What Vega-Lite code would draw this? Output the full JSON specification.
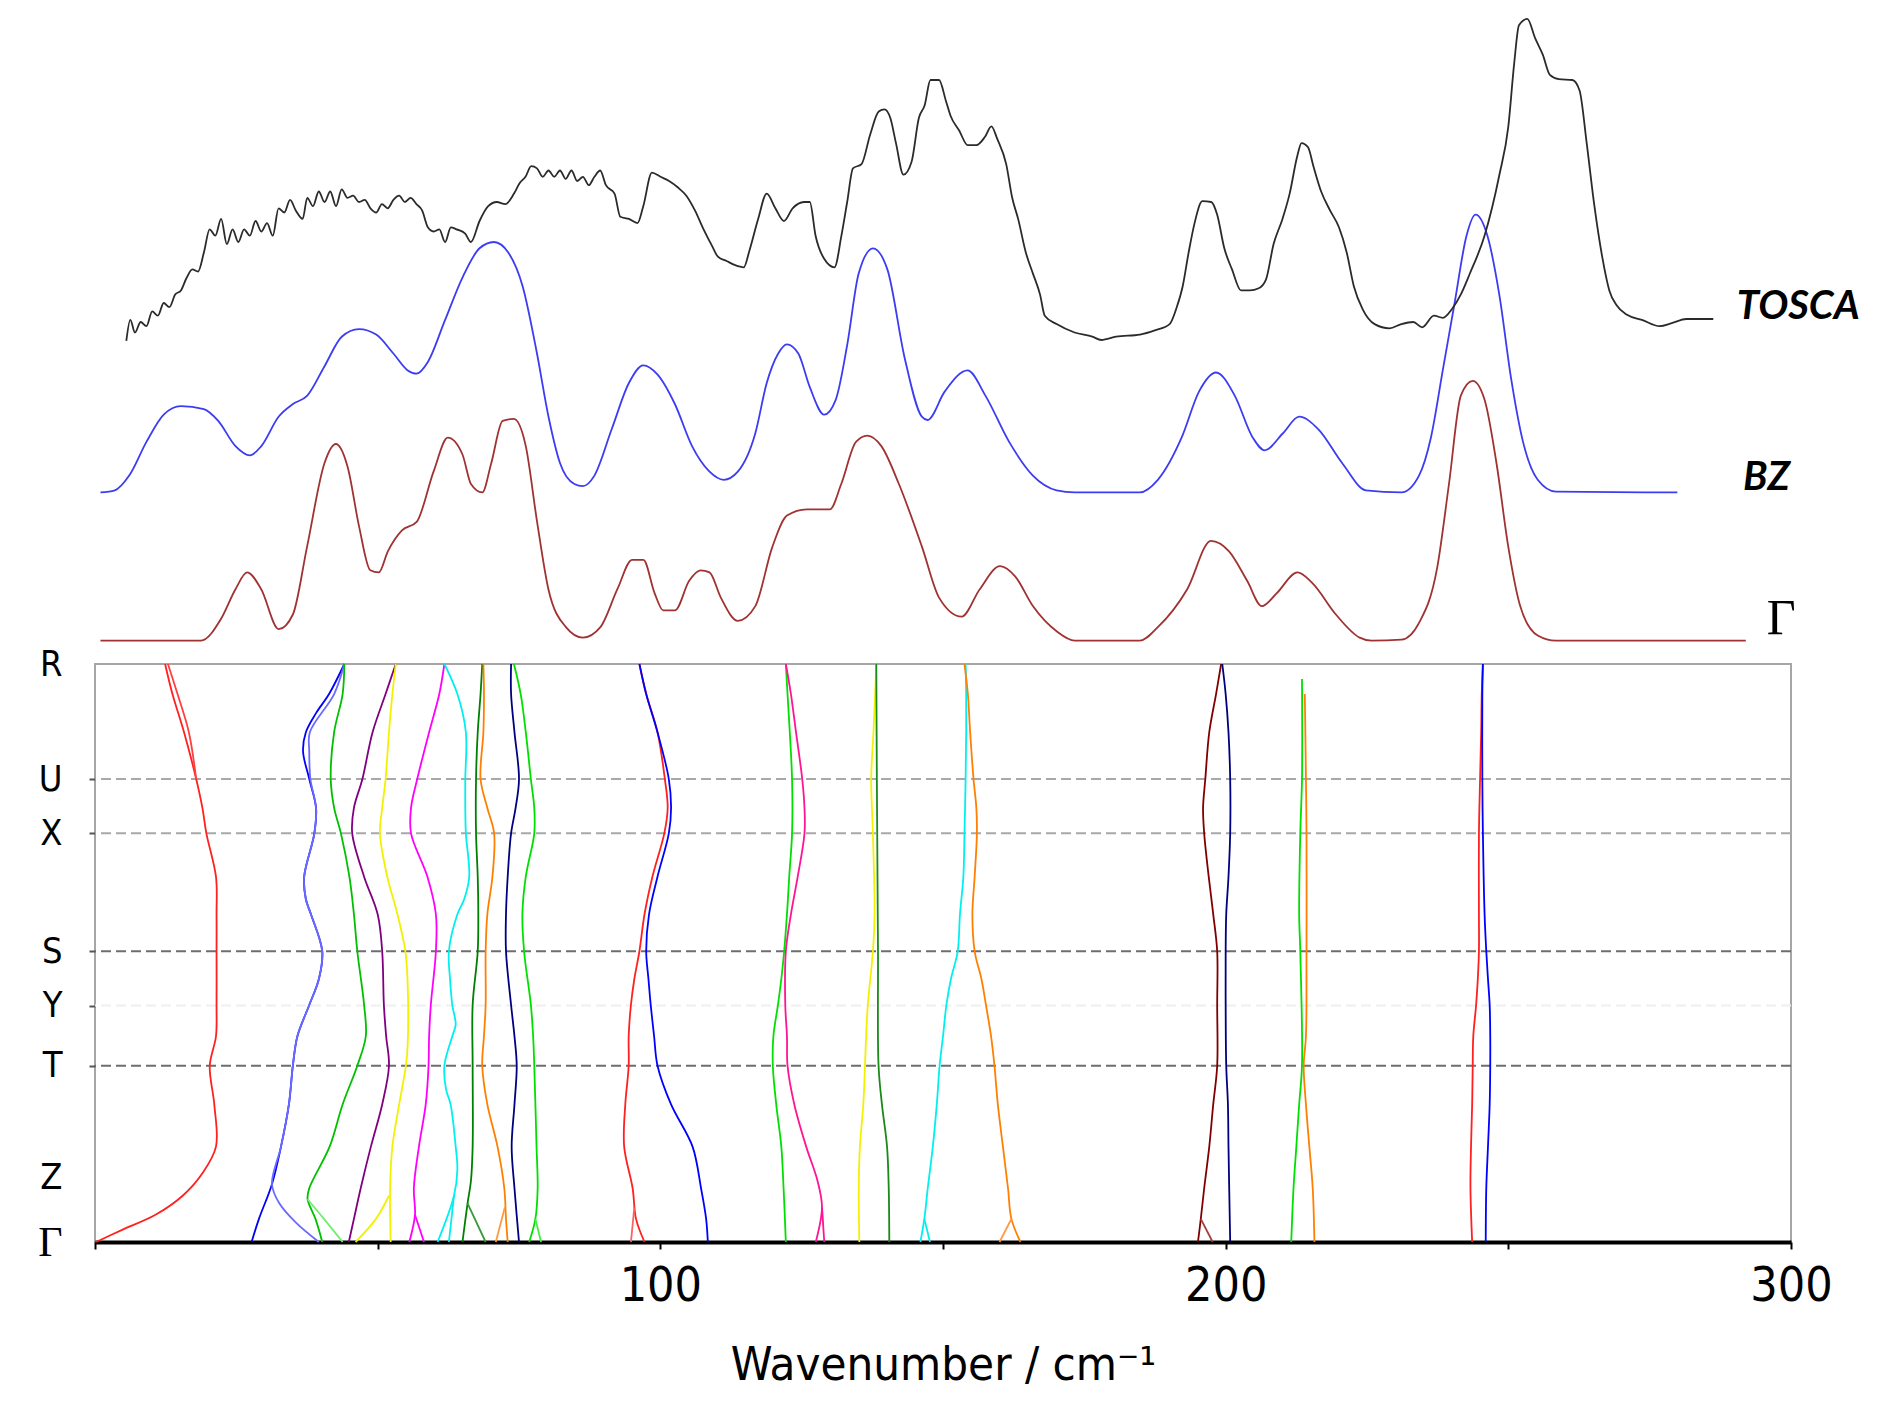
{
"$schema": "https://vega.github.io/schema/vega-lite/v6.json",
"padding": {"left": 36, "top": 0, "right": 0, "bottom": 0},
"background": "white",
"bounds": "flush",
"spacing": 10,
"resolve": {"scale": {"color": "independent", "x": "independent", "y": "independent"}},
"config": {"view": {"stroke": null}},
"datasets": {
"labels": [{"t":"TOSCA","w":290.4,"v":347},{"t":"BZ","w":291.5,"v":176},{"t":"Γ","w":295.7,"v":35}],
"grid": [{"pt":"U","k":0.801},{"pt":"X","k":0.707},{"pt":"S","k":0.503},{"pt":"Y","k":0.409},{"pt":"T","k":0.305}],
"spectra": [
{"s":"Γ","w":0.97,"v":13.4},{"s":"Γ","w":18.75,"v":13.4},{"s":"Γ","w":22.3,"v":35.3},{"s":"Γ","w":24.85,"v":64.8},{"s":"Γ","w":26.9,"v":81.6},{"s":"Γ","w":29.4,"v":64.8},{"s":"Γ","w":32.5,"v":24.8},{"s":"Γ","w":35.0,"v":39.5},{"s":"Γ","w":37.5,"v":106.9},{"s":"Γ","w":40.6,"v":191},{"s":"Γ","w":42.6,"v":210},{"s":"Γ","w":44.7,"v":186.8},{"s":"Γ","w":46.7,"v":127.9},{"s":"Γ","w":48.7,"v":83.7},{"s":"Γ","w":50.2,"v":81.6},{"s":"Γ","w":51.8,"v":102.7},{"s":"Γ","w":54.3,"v":123.7},{"s":"Γ","w":56.9,"v":132.1},{"s":"Γ","w":59.9,"v":182.6},{"s":"Γ","w":62.4,"v":216.3},{"s":"Γ","w":65.0,"v":199.5},{"s":"Γ","w":66.5,"v":170},{"s":"Γ","w":68.5,"v":161.6},{"s":"Γ","w":70.1,"v":191},{"s":"Γ","w":72.1,"v":233.1},{"s":"Γ","w":74.1,"v":235.2},{"s":"Γ","w":76.2,"v":207.9},{"s":"Γ","w":78.2,"v":132.1},{"s":"Γ","w":80.2,"v":64.8},{"s":"Γ","w":83.3,"v":26.9},{"s":"Γ","w":86.3,"v":16.4},{"s":"Γ","w":89.4,"v":26.9},{"s":"Γ","w":92.4,"v":64.8},{"s":"Γ","w":95.0,"v":94.2},{"s":"Γ","w":97.0,"v":94.2},{"s":"Γ","w":99.0,"v":60.6},{"s":"Γ","w":100.5,"v":43.7},{"s":"Γ","w":102.6,"v":43.7},{"s":"Γ","w":105.1,"v":73.2},{"s":"Γ","w":107.1,"v":83.7},{"s":"Γ","w":108.7,"v":81.6},{"s":"Γ","w":110.7,"v":56.4},{"s":"Γ","w":113.7,"v":33.2},{"s":"Γ","w":116.8,"v":47.9},{"s":"Γ","w":119.8,"v":106.9},{"s":"Γ","w":122.4,"v":138.4},{"s":"Γ","w":125.9,"v":144.7},{"s":"Γ","w":130.0,"v":144.7},{"s":"Γ","w":132.0,"v":170},{"s":"Γ","w":134.6,"v":212.1},{"s":"Γ","w":136.6,"v":218.4},{"s":"Γ","w":139.1,"v":207.9},{"s":"Γ","w":142.2,"v":170},{"s":"Γ","w":146.3,"v":106.9},{"s":"Γ","w":149.3,"v":56.4},{"s":"Γ","w":153.3,"v":37.4},{"s":"Γ","w":156.5,"v":64.8},{"s":"Γ","w":160.1,"v":87.9},{"s":"Γ","w":162.8,"v":77.4},{"s":"Γ","w":165.9,"v":47.9},{"s":"Γ","w":170.1,"v":22.7},{"s":"Γ","w":173.3,"v":13.4},{"s":"Γ","w":184.8,"v":13.4},{"s":"Γ","w":188.0,"v":26.9},{"s":"Γ","w":193.2,"v":64.8},{"s":"Γ","w":197.4,"v":113.2},{"s":"Γ","w":200.6,"v":102.7},{"s":"Γ","w":203.8,"v":73.2},{"s":"Γ","w":206.4,"v":47.9},{"s":"Γ","w":209.0,"v":60.6},{"s":"Γ","w":212.7,"v":81.6},{"s":"Γ","w":215.3,"v":71.1},{"s":"Γ","w":219.5,"v":39.5},{"s":"Γ","w":223.7,"v":16.4},{"s":"Γ","w":225.8,"v":13.4},{"s":"Γ","w":231.1,"v":14.3},{"s":"Γ","w":234.2,"v":31.1},{"s":"Γ","w":237.4,"v":85.8},{"s":"Γ","w":239.5,"v":170},{"s":"Γ","w":241.6,"v":258.4},{"s":"Γ","w":243.7,"v":273.1},{"s":"Γ","w":245.8,"v":254.2},{"s":"Γ","w":247.9,"v":191},{"s":"Γ","w":250.0,"v":106.9},{"s":"Γ","w":252.1,"v":47.9},{"s":"Γ","w":255.2,"v":18.5},{"s":"Γ","w":258.4,"v":13.4},{"s":"Γ","w":292.0,"v":13.4},
{"s":"BZ","w":0.97,"v":161.6},{"s":"BZ","w":3.51,"v":163.7},{"s":"BZ","w":6.05,"v":178.4},{"s":"BZ","w":9.1,"v":212.1},{"s":"BZ","w":12.15,"v":239.4},{"s":"BZ","w":15.2,"v":247.9},{"s":"BZ","w":19.26,"v":244.9},{"s":"BZ","w":21.8,"v":233.1},{"s":"BZ","w":24.85,"v":207.9},{"s":"BZ","w":27.39,"v":198.6},{"s":"BZ","w":29.42,"v":207.9},{"s":"BZ","w":32.47,"v":237.3},{"s":"BZ","w":35.01,"v":250},{"s":"BZ","w":37.55,"v":258.4},{"s":"BZ","w":40.6,"v":287.8},{"s":"BZ","w":43.64,"v":317.3},{"s":"BZ","w":46.69,"v":324.9},{"s":"BZ","w":49.74,"v":319.4},{"s":"BZ","w":52.78,"v":300.5},{"s":"BZ","w":55.32,"v":283.6},{"s":"BZ","w":56.85,"v":280.3},{"s":"BZ","w":58.88,"v":292.1},{"s":"BZ","w":61.93,"v":334.1},{"s":"BZ","w":64.98,"v":376.2},{"s":"BZ","w":68.02,"v":405.7},{"s":"BZ","w":70.56,"v":412},{"s":"BZ","w":73.1,"v":401.5},{"s":"BZ","w":75.64,"v":367.8},{"s":"BZ","w":78.18,"v":300.5},{"s":"BZ","w":80.22,"v":237.3},{"s":"BZ","w":82.25,"v":191},{"s":"BZ","w":84.79,"v":170},{"s":"BZ","w":86.31,"v":167.9},{"s":"BZ","w":88.34,"v":178.4},{"s":"BZ","w":91.39,"v":224.7},{"s":"BZ","w":94.44,"v":271},{"s":"BZ","w":96.98,"v":288.7},{"s":"BZ","w":99.52,"v":279.4},{"s":"BZ","w":102.57,"v":250},{"s":"BZ","w":105.61,"v":207.9},{"s":"BZ","w":108.66,"v":182.6},{"s":"BZ","w":111.2,"v":174.2},{"s":"BZ","w":113.74,"v":182.6},{"s":"BZ","w":116.79,"v":220.5},{"s":"BZ","w":118.82,"v":271},{"s":"BZ","w":120.85,"v":300.5},{"s":"BZ","w":122.38,"v":309.7},{"s":"BZ","w":124.41,"v":300.5},{"s":"BZ","w":126.44,"v":266.8},{"s":"BZ","w":128.98,"v":239.4},{"s":"BZ","w":131.02,"v":254.2},{"s":"BZ","w":133.05,"v":308.9},{"s":"BZ","w":135.08,"v":380.4},{"s":"BZ","w":137.62,"v":405.7},{"s":"BZ","w":140.16,"v":384.6},{"s":"BZ","w":143.21,"v":296.3},{"s":"BZ","w":146.25,"v":237.3},{"s":"BZ","w":147.27,"v":234},{"s":"BZ","w":150.32,"v":262.6},{"s":"BZ","w":154.35,"v":283.6},{"s":"BZ","w":157.5,"v":258.4},{"s":"BZ","w":161.7,"v":212.1},{"s":"BZ","w":165.9,"v":178.4},{"s":"BZ","w":170.1,"v":163.7},{"s":"BZ","w":173.3,"v":161.6},{"s":"BZ","w":184.8,"v":161.6},{"s":"BZ","w":188.0,"v":174.2},{"s":"BZ","w":192.2,"v":216.3},{"s":"BZ","w":195.3,"v":262.6},{"s":"BZ","w":198.3,"v":281.5},{"s":"BZ","w":201.6,"v":258.4},{"s":"BZ","w":204.8,"v":216.3},{"s":"BZ","w":206.9,"v":203.7},{"s":"BZ","w":210.1,"v":220.5},{"s":"BZ","w":213.0,"v":237.3},{"s":"BZ","w":216.4,"v":224.7},{"s":"BZ","w":220.6,"v":191},{"s":"BZ","w":224.8,"v":163.7},{"s":"BZ","w":231.1,"v":161.6},{"s":"BZ","w":234.2,"v":178.4},{"s":"BZ","w":236.3,"v":216.3},{"s":"BZ","w":238.4,"v":283.6},{"s":"BZ","w":240.5,"v":351},{"s":"BZ","w":242.6,"v":418.3},{"s":"BZ","w":244.2,"v":439.4},{"s":"BZ","w":246.3,"v":418.3},{"s":"BZ","w":248.4,"v":359.4},{"s":"BZ","w":250.5,"v":275.2},{"s":"BZ","w":252.6,"v":212.1},{"s":"BZ","w":255.2,"v":174.2},{"s":"BZ","w":258.4,"v":162.4},{"s":"BZ","w":279.9,"v":161.6},
{"s":"TOSCA","w":5.54,"v":313.1},{"s":"TOSCA","w":6.25,"v":334.1},{"s":"TOSCA","w":7.07,"v":321.5},{"s":"TOSCA","w":8.08,"v":332},{"s":"TOSCA","w":9.1,"v":327.8},{"s":"TOSCA","w":10.12,"v":342.6},{"s":"TOSCA","w":11.13,"v":338.3},{"s":"TOSCA","w":12.15,"v":351},{"s":"TOSCA","w":13.16,"v":346.8},{"s":"TOSCA","w":14.18,"v":359.4},{"s":"TOSCA","w":15.2,"v":363.6},{"s":"TOSCA","w":16.21,"v":376.2},{"s":"TOSCA","w":17.23,"v":384.6},{"s":"TOSCA","w":18.24,"v":382.5},{"s":"TOSCA","w":19.26,"v":401.5},{"s":"TOSCA","w":20.28,"v":424.6},{"s":"TOSCA","w":21.29,"v":418.3},{"s":"TOSCA","w":22.31,"v":435.1},{"s":"TOSCA","w":23.32,"v":409.9},{"s":"TOSCA","w":24.34,"v":424.6},{"s":"TOSCA","w":25.35,"v":412},{"s":"TOSCA","w":26.37,"v":424.6},{"s":"TOSCA","w":27.39,"v":418.3},{"s":"TOSCA","w":28.4,"v":433},{"s":"TOSCA","w":29.42,"v":422.5},{"s":"TOSCA","w":30.43,"v":430.9},{"s":"TOSCA","w":31.45,"v":418.3},{"s":"TOSCA","w":32.47,"v":445.7},{"s":"TOSCA","w":33.48,"v":441.5},{"s":"TOSCA","w":34.5,"v":454.1},{"s":"TOSCA","w":35.51,"v":443.6},{"s":"TOSCA","w":36.73,"v":435.1},{"s":"TOSCA","w":37.55,"v":456.2},{"s":"TOSCA","w":38.56,"v":447.8},{"s":"TOSCA","w":39.58,"v":462.5},{"s":"TOSCA","w":40.6,"v":452},{"s":"TOSCA","w":41.61,"v":462.5},{"s":"TOSCA","w":42.63,"v":447.8},{"s":"TOSCA","w":43.64,"v":464.6},{"s":"TOSCA","w":44.66,"v":456.2},{"s":"TOSCA","w":45.67,"v":458.3},{"s":"TOSCA","w":46.69,"v":452},{"s":"TOSCA","w":47.71,"v":454.1},{"s":"TOSCA","w":48.72,"v":445.7},{"s":"TOSCA","w":49.74,"v":441.5},{"s":"TOSCA","w":50.75,"v":449.9},{"s":"TOSCA","w":51.77,"v":445.7},{"s":"TOSCA","w":52.78,"v":454.1},{"s":"TOSCA","w":53.8,"v":458.3},{"s":"TOSCA","w":54.82,"v":452},{"s":"TOSCA","w":55.83,"v":456.2},{"s":"TOSCA","w":56.85,"v":449.9},{"s":"TOSCA","w":57.86,"v":443.6},{"s":"TOSCA","w":58.88,"v":426.7},{"s":"TOSCA","w":59.9,"v":422.5},{"s":"TOSCA","w":60.91,"v":424.6},{"s":"TOSCA","w":61.93,"v":412},{"s":"TOSCA","w":62.94,"v":426.7},{"s":"TOSCA","w":63.96,"v":424.6},{"s":"TOSCA","w":65.48,"v":420.4},{"s":"TOSCA","w":66.5,"v":412},{"s":"TOSCA","w":68.02,"v":433},{"s":"TOSCA","w":69.55,"v":447.8},{"s":"TOSCA","w":71.07,"v":452},{"s":"TOSCA","w":72.59,"v":449.9},{"s":"TOSCA","w":74.12,"v":460.4},{"s":"TOSCA","w":75.13,"v":470.9},{"s":"TOSCA","w":76.15,"v":477.2},{"s":"TOSCA","w":77.17,"v":487.8},{"s":"TOSCA","w":78.18,"v":485.6},{"s":"TOSCA","w":79.2,"v":477.2},{"s":"TOSCA","w":80.22,"v":483.5},{"s":"TOSCA","w":81.23,"v":477.2},{"s":"TOSCA","w":82.25,"v":483.5},{"s":"TOSCA","w":83.26,"v":475.1},{"s":"TOSCA","w":84.28,"v":483.5},{"s":"TOSCA","w":85.3,"v":473},{"s":"TOSCA","w":86.31,"v":477.2},{"s":"TOSCA","w":87.33,"v":468.8},{"s":"TOSCA","w":88.34,"v":477.2},{"s":"TOSCA","w":89.36,"v":483.5},{"s":"TOSCA","w":90.38,"v":468.8},{"s":"TOSCA","w":91.9,"v":460.4},{"s":"TOSCA","w":92.92,"v":437.2},{"s":"TOSCA","w":94.44,"v":435.1},{"s":"TOSCA","w":95.96,"v":430.9},{"s":"TOSCA","w":96.98,"v":447.8},{"s":"TOSCA","w":98.5,"v":481.4},{"s":"TOSCA","w":100.03,"v":477.2},{"s":"TOSCA","w":101.55,"v":473},{"s":"TOSCA","w":103.07,"v":466.7},{"s":"TOSCA","w":104.6,"v":458.3},{"s":"TOSCA","w":106.12,"v":443.6},{"s":"TOSCA","w":107.65,"v":424.6},{"s":"TOSCA","w":109.17,"v":407.8},{"s":"TOSCA","w":110.19,"v":397.3},{"s":"TOSCA","w":111.71,"v":393},{"s":"TOSCA","w":113.23,"v":388.8},{"s":"TOSCA","w":114.76,"v":386.7},{"s":"TOSCA","w":115.77,"v":403.6},{"s":"TOSCA","w":117.3,"v":435.1},{"s":"TOSCA","w":118.82,"v":460.4},{"s":"TOSCA","w":120.35,"v":445.7},{"s":"TOSCA","w":121.87,"v":433},{"s":"TOSCA","w":123.4,"v":445.7},{"s":"TOSCA","w":125.43,"v":452},{"s":"TOSCA","w":126.44,"v":452},{"s":"TOSCA","w":127.46,"v":418.3},{"s":"TOSCA","w":128.98,"v":395.2},{"s":"TOSCA","w":130.81,"v":386.7},{"s":"TOSCA","w":132.03,"v":418.3},{"s":"TOSCA","w":133.05,"v":452},{"s":"TOSCA","w":134.07,"v":485.6},{"s":"TOSCA","w":135.59,"v":489.9},{"s":"TOSCA","w":137.11,"v":519.3},{"s":"TOSCA","w":138.63,"v":542.5},{"s":"TOSCA","w":139.65,"v":544.6},{"s":"TOSCA","w":140.67,"v":536.2},{"s":"TOSCA","w":141.68,"v":510.9},{"s":"TOSCA","w":143.0,"v":479.3},{"s":"TOSCA","w":144.43,"v":492},{"s":"TOSCA","w":145.74,"v":536.2},{"s":"TOSCA","w":146.76,"v":548.8},{"s":"TOSCA","w":147.78,"v":574},{"s":"TOSCA","w":149.3,"v":574},{"s":"TOSCA","w":150.52,"v":553},{"s":"TOSCA","w":151.33,"v":538.3},{"s":"TOSCA","w":152.86,"v":523.5},{"s":"TOSCA","w":154.38,"v":508.8},{"s":"TOSCA","w":155.9,"v":508.8},{"s":"TOSCA","w":157.43,"v":517.2},{"s":"TOSCA","w":158.56,"v":527.7},{"s":"TOSCA","w":159.6,"v":515.1},{"s":"TOSCA","w":161.18,"v":489.9},{"s":"TOSCA","w":162.24,"v":456.2},{"s":"TOSCA","w":163.29,"v":435.1},{"s":"TOSCA","w":164.65,"v":401.5},{"s":"TOSCA","w":165.91,"v":380.4},{"s":"TOSCA","w":167.17,"v":359.4},{"s":"TOSCA","w":168.0,"v":338.3},{"s":"TOSCA","w":170.1,"v":329.9},{"s":"TOSCA","w":173.27,"v":321.5},{"s":"TOSCA","w":176.42,"v":317.3},{"s":"TOSCA","w":178.0,"v":314},{"s":"TOSCA","w":180.63,"v":317.3},{"s":"TOSCA","w":184.83,"v":319.4},{"s":"TOSCA","w":187.46,"v":323.6},{"s":"TOSCA","w":190.09,"v":329.9},{"s":"TOSCA","w":191.35,"v":346.8},{"s":"TOSCA","w":192.4,"v":367.8},{"s":"TOSCA","w":193.45,"v":401.5},{"s":"TOSCA","w":194.5,"v":430.9},{"s":"TOSCA","w":195.87,"v":452.8},{"s":"TOSCA","w":197.44,"v":452},{"s":"TOSCA","w":198.49,"v":439.4},{"s":"TOSCA","w":199.76,"v":405.7},{"s":"TOSCA","w":201.12,"v":384.6},{"s":"TOSCA","w":202.7,"v":363.6},{"s":"TOSCA","w":204.27,"v":363.6},{"s":"TOSCA","w":205.85,"v":365.7},{"s":"TOSCA","w":207.11,"v":374.1},{"s":"TOSCA","w":208.48,"v":409.9},{"s":"TOSCA","w":210.05,"v":435.1},{"s":"TOSCA","w":211.32,"v":460.4},{"s":"TOSCA","w":212.68,"v":498.3},{"s":"TOSCA","w":213.42,"v":510.9},{"s":"TOSCA","w":214.57,"v":506.7},{"s":"TOSCA","w":215.52,"v":487.8},{"s":"TOSCA","w":216.89,"v":462.5},{"s":"TOSCA","w":218.46,"v":443.6},{"s":"TOSCA","w":220.04,"v":426.7},{"s":"TOSCA","w":221.41,"v":401.5},{"s":"TOSCA","w":222.67,"v":367.8},{"s":"TOSCA","w":224.24,"v":344.7},{"s":"TOSCA","w":226.35,"v":329.9},{"s":"TOSCA","w":228.97,"v":325.7},{"s":"TOSCA","w":231.07,"v":329.9},{"s":"TOSCA","w":233.18,"v":332},{"s":"TOSCA","w":234.75,"v":326.6},{"s":"TOSCA","w":236.85,"v":338.3},{"s":"TOSCA","w":238.43,"v":336.2},{"s":"TOSCA","w":240.0,"v":344.7},{"s":"TOSCA","w":241.58,"v":359.4},{"s":"TOSCA","w":243.16,"v":380},{"s":"TOSCA","w":245.79,"v":418.3},{"s":"TOSCA","w":248.42,"v":479.3},{"s":"TOSCA","w":250.0,"v":527.7},{"s":"TOSCA","w":251.04,"v":590.9},{"s":"TOSCA","w":251.88,"v":628.7},{"s":"TOSCA","w":253.36,"v":635.1},{"s":"TOSCA","w":254.72,"v":616.1},{"s":"TOSCA","w":256.09,"v":599.3},{"s":"TOSCA","w":257.35,"v":579.1},{"s":"TOSCA","w":258.93,"v":574.9},{"s":"TOSCA","w":261.34,"v":574},{"s":"TOSCA","w":262.6,"v":563.5},{"s":"TOSCA","w":263.86,"v":510.9},{"s":"TOSCA","w":265.23,"v":447.8},{"s":"TOSCA","w":266.6,"v":397.3},{"s":"TOSCA","w":267.86,"v":363.6},{"s":"TOSCA","w":269.12,"v":348.9},{"s":"TOSCA","w":271.0,"v":339.2},{"s":"TOSCA","w":273.64,"v":334.1},{"s":"TOSCA","w":276.79,"v":327.8},{"s":"TOSCA","w":278.9,"v":330.8},{"s":"TOSCA","w":281.5,"v":335},{"s":"TOSCA","w":286.25,"v":335}
],
"disp": [
{"b":"b01","k":1,"w":12.4},{"b":"b01","k":0.948,"w":13.7},{"b":"b01","k":0.882,"w":15.75},{"b":"b01","k":0.801,"w":17.9},{"b":"b01","k":0.751,"w":19.0},{"b":"b01","k":0.707,"w":19.7},{"b":"b01","k":0.632,"w":21.4},{"b":"b01","k":0.567,"w":21.5},{"b":"b01","k":0.503,"w":21.5},{"b":"b01","k":0.41,"w":21.5},{"b":"b01","k":0.356,"w":21.4},{"b":"b01","k":0.305,"w":20.3},{"b":"b01","k":0.238,"w":21.1},{"b":"b01","k":0.165,"w":21.4},{"b":"b01","k":0.119,"w":19.0},{"b":"b01","k":0.08,"w":15.5},{"b":"b01","k":0.047,"w":10.7},{"b":"b01","k":0.021,"w":4.8},{"b":"b01","k":0,"w":0.2},
{"b":"b02","k":1,"w":12.9},{"b":"b02","k":0.948,"w":14.6},{"b":"b02","k":0.882,"w":16.6},{"b":"b02","k":0.801,"w":17.9},
{"b":"b03","k":1,"w":44.1},{"b":"b03","k":0.948,"w":41.4},{"b":"b03","k":0.915,"w":39.1},{"b":"b03","k":0.882,"w":37.3},{"b":"b03","k":0.849,"w":36.8},{"b":"b03","k":0.801,"w":37.9},{"b":"b03","k":0.751,"w":39.1},{"b":"b03","k":0.707,"w":38.8},{"b":"b03","k":0.632,"w":37.0},{"b":"b03","k":0.593,"w":37.3},{"b":"b03","k":0.567,"w":38.2},{"b":"b03","k":0.503,"w":40.2},{"b":"b03","k":0.455,"w":39.6},{"b":"b03","k":0.41,"w":37.9},{"b":"b03","k":0.356,"w":35.8},{"b":"b03","k":0.305,"w":35.0},{"b":"b03","k":0.238,"w":34.3},{"b":"b03","k":0.165,"w":32.9},{"b":"b03","k":0.1,"w":31.3},{"b":"b03","k":0.04,"w":29.0},{"b":"b03","k":0,"w":27.7},
{"b":"b04","k":1,"w":44.1},{"b":"b04","k":0.948,"w":42.3},{"b":"b04","k":0.882,"w":38.0},{"b":"b04","k":0.849,"w":37.9},{"b":"b04","k":0.801,"w":38.1},{"b":"b04","k":0.751,"w":39.1},{"b":"b04","k":0.707,"w":38.8},{"b":"b04","k":0.632,"w":37.0},{"b":"b04","k":0.593,"w":37.3},{"b":"b04","k":0.567,"w":38.2},{"b":"b04","k":0.503,"w":40.2},{"b":"b04","k":0.455,"w":39.6},{"b":"b04","k":0.41,"w":37.9},{"b":"b04","k":0.356,"w":35.8},{"b":"b04","k":0.305,"w":35.0},{"b":"b04","k":0.238,"w":34.3},{"b":"b04","k":0.165,"w":32.9},{"b":"b04","k":0.1,"w":31.3},{"b":"b04","k":0.067,"w":32.6},{"b":"b04","k":0.034,"w":35.5},{"b":"b04","k":0,"w":39.6},
{"b":"b05","k":1,"w":44.1},{"b":"b05","k":0.948,"w":43.8},{"b":"b05","k":0.882,"w":42.3},{"b":"b05","k":0.801,"w":41.7},{"b":"b05","k":0.751,"w":42.3},{"b":"b05","k":0.707,"w":43.5},{"b":"b05","k":0.632,"w":45.0},{"b":"b05","k":0.567,"w":45.8},{"b":"b05","k":0.503,"w":46.4},{"b":"b05","k":0.41,"w":47.6},{"b":"b05","k":0.356,"w":47.9},{"b":"b05","k":0.305,"w":46.4},{"b":"b05","k":0.238,"w":43.8},{"b":"b05","k":0.165,"w":41.5},{"b":"b05","k":0.093,"w":37.9},{"b":"b05","k":0.074,"w":37.6},{"b":"b05","k":0.04,"w":39.0},{"b":"b05","k":0,"w":40.2},
{"b":"b06","k":0.074,"w":37.6},{"b":"b06","k":0.04,"w":40.5},{"b":"b06","k":0,"w":43.8},
{"b":"b07","k":1,"w":53.2},{"b":"b07","k":0.948,"w":51.4},{"b":"b07","k":0.882,"w":49.1},{"b":"b07","k":0.801,"w":47.3},{"b":"b07","k":0.751,"w":45.8},{"b":"b07","k":0.707,"w":45.5},{"b":"b07","k":0.632,"w":47.6},{"b":"b07","k":0.567,"w":50.0},{"b":"b07","k":0.503,"w":50.8},{"b":"b07","k":0.41,"w":51.1},{"b":"b07","k":0.356,"w":51.5},{"b":"b07","k":0.305,"w":52.0},{"b":"b07","k":0.238,"w":50.8},{"b":"b07","k":0.165,"w":48.8},{"b":"b07","k":0.093,"w":47.0},{"b":"b07","k":0.04,"w":45.8},{"b":"b07","k":0,"w":44.9},
{"b":"b08","k":1,"w":53.2},{"b":"b08","k":0.948,"w":52.6},{"b":"b08","k":0.882,"w":52.0},{"b":"b08","k":0.801,"w":51.4},{"b":"b08","k":0.751,"w":50.8},{"b":"b08","k":0.707,"w":50.4},{"b":"b08","k":0.632,"w":51.7},{"b":"b08","k":0.567,"w":53.5},{"b":"b08","k":0.503,"w":54.9},{"b":"b08","k":0.448,"w":55.3},{"b":"b08","k":0.34,"w":55.3},{"b":"b08","k":0.305,"w":55.0},{"b":"b08","k":0.238,"w":53.8},{"b":"b08","k":0.165,"w":52.6},{"b":"b08","k":0.093,"w":52.2},{"b":"b08","k":0,"w":52.3},
{"b":"b09","k":0.08,"w":52.0},{"b":"b09","k":0.04,"w":49.7},{"b":"b09","k":0,"w":46.1},
{"b":"b10","k":1,"w":61.8},{"b":"b10","k":0.948,"w":60.9},{"b":"b10","k":0.882,"w":59.1},{"b":"b10","k":0.801,"w":57.0},{"b":"b10","k":0.751,"w":55.9},{"b":"b10","k":0.707,"w":55.9},{"b":"b10","k":0.632,"w":58.8},{"b":"b10","k":0.567,"w":60.3},{"b":"b10","k":0.503,"w":60.3},{"b":"b10","k":0.41,"w":59.4},{"b":"b10","k":0.356,"w":59.1},{"b":"b10","k":0.305,"w":59.0},{"b":"b10","k":0.238,"w":58.5},{"b":"b10","k":0.165,"w":57.3},{"b":"b10","k":0.093,"w":56.4},{"b":"b10","k":0.047,"w":56.6},{"b":"b10","k":0,"w":55.6},
{"b":"b11","k":0.047,"w":56.6},{"b":"b11","k":0,"w":58.2},
{"b":"b12","k":1,"w":61.8},{"b":"b12","k":0.948,"w":64.1},{"b":"b12","k":0.882,"w":65.6},{"b":"b12","k":0.801,"w":65.5},{"b":"b12","k":0.751,"w":65.5},{"b":"b12","k":0.707,"w":65.6},{"b":"b12","k":0.632,"w":66.2},{"b":"b12","k":0.593,"w":65.3},{"b":"b12","k":0.567,"w":64.1},{"b":"b12","k":0.503,"w":62.6},{"b":"b12","k":0.455,"w":62.8},{"b":"b12","k":0.41,"w":63.2},{"b":"b12","k":0.376,"w":63.8},{"b":"b12","k":0.356,"w":63.2},{"b":"b12","k":0.305,"w":61.8},{"b":"b12","k":0.264,"w":62.1},{"b":"b12","k":0.238,"w":62.9},{"b":"b12","k":0.165,"w":63.8},{"b":"b12","k":0.126,"w":64.1},{"b":"b12","k":0.08,"w":63.5},{"b":"b12","k":0,"w":60.6},
{"b":"b13","k":0.08,"w":63.5},{"b":"b13","k":0,"w":62.6},
{"b":"b14","k":1,"w":68.5},{"b":"b14","k":0.948,"w":68.2},{"b":"b14","k":0.882,"w":67.7},{"b":"b14","k":0.801,"w":67.4},{"b":"b14","k":0.707,"w":67.4},{"b":"b14","k":0.632,"w":67.7},{"b":"b14","k":0.567,"w":67.8},{"b":"b14","k":0.503,"w":67.7},{"b":"b14","k":0.41,"w":66.8},{"b":"b14","k":0.305,"w":66.8},{"b":"b14","k":0.165,"w":66.8},{"b":"b14","k":0.106,"w":66.5},{"b":"b14","k":0.067,"w":65.9},{"b":"b14","k":0,"w":65.0},
{"b":"b15","k":0.067,"w":65.9},{"b":"b15","k":0,"w":69.1},
{"b":"b16","k":1,"w":68.7},{"b":"b16","k":0.948,"w":68.8},{"b":"b16","k":0.882,"w":68.7},{"b":"b16","k":0.801,"w":68.2},{"b":"b16","k":0.751,"w":69.4},{"b":"b16","k":0.707,"w":70.6},{"b":"b16","k":0.632,"w":70.3},{"b":"b16","k":0.567,"w":69.4},{"b":"b16","k":0.503,"w":69.1},{"b":"b16","k":0.41,"w":69.1},{"b":"b16","k":0.356,"w":68.8},{"b":"b16","k":0.305,"w":68.5},{"b":"b16","k":0.238,"w":69.4},{"b":"b16","k":0.165,"w":71.2},{"b":"b16","k":0.093,"w":72.4},{"b":"b16","k":0.04,"w":72.7},{"b":"b16","k":0,"w":73.0},
{"b":"b17","k":0.06,"w":72.5},{"b":"b17","k":0,"w":70.9},
{"b":"b18","k":1,"w":73.6},{"b":"b18","k":0.948,"w":73.6},{"b":"b18","k":0.882,"w":74.2},{"b":"b18","k":0.801,"w":75.0},{"b":"b18","k":0.751,"w":74.4},{"b":"b18","k":0.707,"w":73.6},{"b":"b18","k":0.632,"w":73.0},{"b":"b18","k":0.567,"w":72.7},{"b":"b18","k":0.503,"w":72.7},{"b":"b18","k":0.41,"w":73.6},{"b":"b18","k":0.356,"w":74.2},{"b":"b18","k":0.305,"w":74.6},{"b":"b18","k":0.238,"w":74.2},{"b":"b18","k":0.165,"w":73.7},{"b":"b18","k":0.093,"w":74.2},{"b":"b18","k":0,"w":75.0},
{"b":"b19","k":1,"w":74.1},{"b":"b19","k":0.948,"w":75.3},{"b":"b19","k":0.882,"w":76.2},{"b":"b19","k":0.801,"w":77.1},{"b":"b19","k":0.751,"w":77.7},{"b":"b19","k":0.707,"w":77.7},{"b":"b19","k":0.632,"w":76.2},{"b":"b19","k":0.567,"w":75.6},{"b":"b19","k":0.503,"w":75.9},{"b":"b19","k":0.41,"w":77.1},{"b":"b19","k":0.356,"w":77.5},{"b":"b19","k":0.305,"w":77.7},{"b":"b19","k":0.238,"w":77.9},{"b":"b19","k":0.165,"w":78.1},{"b":"b19","k":0.093,"w":78.3},{"b":"b19","k":0.04,"w":77.9},{"b":"b19","k":0,"w":76.8},
{"b":"b20","k":0.04,"w":77.9},{"b":"b20","k":0,"w":78.9},
{"b":"b21","k":1,"w":96.3},{"b":"b21","k":0.948,"w":97.5},{"b":"b21","k":0.882,"w":99.5},{"b":"b21","k":0.801,"w":100.8},{"b":"b21","k":0.751,"w":101.3},{"b":"b21","k":0.707,"w":100.7},{"b":"b21","k":0.632,"w":98.6},{"b":"b21","k":0.567,"w":97.2},{"b":"b21","k":0.503,"w":96.3},{"b":"b21","k":0.455,"w":95.4},{"b":"b21","k":0.41,"w":94.8},{"b":"b21","k":0.356,"w":94.4},{"b":"b21","k":0.305,"w":94.4},{"b":"b21","k":0.238,"w":93.8},{"b":"b21","k":0.165,"w":93.6},{"b":"b21","k":0.093,"w":95.1},{"b":"b21","k":0.04,"w":95.7},{"b":"b21","k":0,"w":97.2},
{"b":"b22","k":0.06,"w":95.4},{"b":"b22","k":0,"w":94.8},
{"b":"b23","k":1,"w":96.3},{"b":"b23","k":0.948,"w":97.5},{"b":"b23","k":0.882,"w":99.5},{"b":"b23","k":0.801,"w":101.5},{"b":"b23","k":0.751,"w":101.9},{"b":"b23","k":0.707,"w":101.5},{"b":"b23","k":0.632,"w":99.5},{"b":"b23","k":0.567,"w":98.0},{"b":"b23","k":0.503,"w":97.5},{"b":"b23","k":0.455,"w":97.9},{"b":"b23","k":0.41,"w":98.3},{"b":"b23","k":0.356,"w":98.9},{"b":"b23","k":0.305,"w":99.5},{"b":"b23","k":0.238,"w":101.9},{"b":"b23","k":0.165,"w":105.7},{"b":"b23","k":0.093,"w":107.2},{"b":"b23","k":0.04,"w":108.1},{"b":"b23","k":0,"w":108.4},
{"b":"b24","k":1,"w":122.2},{"b":"b24","k":0.948,"w":122.5},{"b":"b24","k":0.882,"w":122.9},{"b":"b24","k":0.801,"w":123.3},{"b":"b24","k":0.707,"w":123.3},{"b":"b24","k":0.632,"w":122.8},{"b":"b24","k":0.567,"w":122.4},{"b":"b24","k":0.503,"w":121.9},{"b":"b24","k":0.455,"w":121.4},{"b":"b24","k":0.41,"w":120.8},{"b":"b24","k":0.356,"w":120.0},{"b":"b24","k":0.305,"w":119.9},{"b":"b24","k":0.238,"w":120.5},{"b":"b24","k":0.165,"w":121.4},{"b":"b24","k":0.093,"w":121.8},{"b":"b24","k":0,"w":122.2},
{"b":"b25","k":1,"w":122.2},{"b":"b25","k":0.948,"w":123.1},{"b":"b25","k":0.882,"w":124.0},{"b":"b25","k":0.801,"w":125.1},{"b":"b25","k":0.751,"w":125.5},{"b":"b25","k":0.707,"w":125.5},{"b":"b25","k":0.632,"w":124.3},{"b":"b25","k":0.567,"w":123.1},{"b":"b25","k":0.503,"w":122.2},{"b":"b25","k":0.41,"w":122.1},{"b":"b25","k":0.356,"w":122.4},{"b":"b25","k":0.305,"w":122.5},{"b":"b25","k":0.238,"w":123.7},{"b":"b25","k":0.165,"w":125.8},{"b":"b25","k":0.106,"w":127.8},{"b":"b25","k":0.06,"w":128.6},{"b":"b25","k":0,"w":127.5},
{"b":"b26","k":0.06,"w":128.6},{"b":"b26","k":0,"w":129.0},
{"b":"b27","k":1,"w":138.2},{"b":"b27","k":0.948,"w":138.0},{"b":"b27","k":0.882,"w":137.7},{"b":"b27","k":0.801,"w":137.3},{"b":"b27","k":0.707,"w":137.6},{"b":"b27","k":0.567,"w":137.9},{"b":"b27","k":0.503,"w":137.6},{"b":"b27","k":0.41,"w":136.7},{"b":"b27","k":0.356,"w":136.4},{"b":"b27","k":0.305,"w":136.2},{"b":"b27","k":0.238,"w":135.9},{"b":"b27","k":0.165,"w":135.3},{"b":"b27","k":0.093,"w":135.1},{"b":"b27","k":0,"w":135.2},
{"b":"b28","k":1,"w":138.2},{"b":"b28","k":0.801,"w":138.3},{"b":"b28","k":0.503,"w":138.5},{"b":"b28","k":0.305,"w":138.6},{"b":"b28","k":0.238,"w":139.2},{"b":"b28","k":0.165,"w":140.1},{"b":"b28","k":0.093,"w":140.4},{"b":"b28","k":0,"w":140.5},
{"b":"b29","k":1,"w":154.0},{"b":"b29","k":0.948,"w":154.1},{"b":"b29","k":0.882,"w":154.1},{"b":"b29","k":0.801,"w":154.0},{"b":"b29","k":0.707,"w":153.8},{"b":"b29","k":0.632,"w":153.6},{"b":"b29","k":0.567,"w":153.0},{"b":"b29","k":0.503,"w":152.6},{"b":"b29","k":0.455,"w":151.4},{"b":"b29","k":0.41,"w":150.6},{"b":"b29","k":0.356,"w":150.0},{"b":"b29","k":0.305,"w":149.4},{"b":"b29","k":0.238,"w":148.9},{"b":"b29","k":0.165,"w":148.2},{"b":"b29","k":0.093,"w":147.3},{"b":"b29","k":0.04,"w":146.7},{"b":"b29","k":0,"w":146.0},
{"b":"b30","k":0.04,"w":146.7},{"b":"b30","k":0,"w":147.7},
{"b":"b31","k":1,"w":153.8},{"b":"b31","k":0.948,"w":154.4},{"b":"b31","k":0.882,"w":154.8},{"b":"b31","k":0.801,"w":155.4},{"b":"b31","k":0.751,"w":155.9},{"b":"b31","k":0.707,"w":156.0},{"b":"b31","k":0.632,"w":155.6},{"b":"b31","k":0.567,"w":155.2},{"b":"b31","k":0.503,"w":155.6},{"b":"b31","k":0.455,"w":156.8},{"b":"b31","k":0.41,"w":157.6},{"b":"b31","k":0.356,"w":158.5},{"b":"b31","k":0.305,"w":159.1},{"b":"b31","k":0.238,"w":159.7},{"b":"b31","k":0.165,"w":160.6},{"b":"b31","k":0.093,"w":161.5},{"b":"b31","k":0.04,"w":162.1},{"b":"b31","k":0,"w":163.7},
{"b":"b32","k":0.04,"w":162.1},{"b":"b32","k":0,"w":160.0},
{"b":"b33","k":1,"w":199.2},{"b":"b33","k":0.948,"w":198.3},{"b":"b33","k":0.882,"w":197.1},{"b":"b33","k":0.801,"w":196.4},{"b":"b33","k":0.751,"w":196.0},{"b":"b33","k":0.707,"w":196.2},{"b":"b33","k":0.632,"w":197.0},{"b":"b33","k":0.567,"w":197.8},{"b":"b33","k":0.503,"w":198.5},{"b":"b33","k":0.41,"w":198.5},{"b":"b33","k":0.305,"w":198.5},{"b":"b33","k":0.238,"w":197.8},{"b":"b33","k":0.165,"w":197.1},{"b":"b33","k":0.093,"w":196.2},{"b":"b33","k":0.04,"w":195.6},{"b":"b33","k":0,"w":195.1},
{"b":"b34","k":0.04,"w":195.6},{"b":"b34","k":0,"w":197.7},
{"b":"b35","k":1,"w":199.4},{"b":"b35","k":0.948,"w":200.0},{"b":"b35","k":0.882,"w":200.5},{"b":"b35","k":0.801,"w":200.8},{"b":"b35","k":0.707,"w":200.8},{"b":"b35","k":0.632,"w":200.5},{"b":"b35","k":0.567,"w":200.1},{"b":"b35","k":0.503,"w":200.0},{"b":"b35","k":0.41,"w":200.0},{"b":"b35","k":0.305,"w":200.1},{"b":"b35","k":0.238,"w":200.4},{"b":"b35","k":0.165,"w":200.5},{"b":"b35","k":0,"w":200.8},
{"b":"b36","k":0.974,"w":213.5},{"b":"b36","k":0.801,"w":213.5},{"b":"b36","k":0.707,"w":213.2},{"b":"b36","k":0.567,"w":213.0},{"b":"b36","k":0.503,"w":213.2},{"b":"b36","k":0.305,"w":213.5},{"b":"b36","k":0.238,"w":213.0},{"b":"b36","k":0.165,"w":212.5},{"b":"b36","k":0.093,"w":212.0},{"b":"b36","k":0,"w":211.6},
{"b":"b37","k":0.948,"w":214.0},{"b":"b37","k":0.801,"w":214.2},{"b":"b37","k":0.707,"w":214.3},{"b":"b37","k":0.503,"w":214.3},{"b":"b37","k":0.356,"w":214.2},{"b":"b37","k":0.305,"w":213.8},{"b":"b37","k":0.238,"w":214.2},{"b":"b37","k":0.165,"w":214.8},{"b":"b37","k":0.093,"w":215.4},{"b":"b37","k":0,"w":215.7},
{"b":"b38","k":1,"w":245.5},{"b":"b38","k":0.948,"w":245.3},{"b":"b38","k":0.882,"w":245.2},{"b":"b38","k":0.801,"w":245.0},{"b":"b38","k":0.707,"w":244.8},{"b":"b38","k":0.567,"w":244.8},{"b":"b38","k":0.503,"w":244.8},{"b":"b38","k":0.455,"w":244.6},{"b":"b38","k":0.41,"w":244.3},{"b":"b38","k":0.356,"w":243.8},{"b":"b38","k":0.305,"w":243.7},{"b":"b38","k":0.238,"w":243.6},{"b":"b38","k":0.165,"w":243.4},{"b":"b38","k":0.093,"w":243.3},{"b":"b38","k":0,"w":243.6},
{"b":"b39","k":1,"w":245.5},{"b":"b39","k":0.948,"w":245.4},{"b":"b39","k":0.801,"w":245.4},{"b":"b39","k":0.707,"w":245.5},{"b":"b39","k":0.567,"w":245.8},{"b":"b39","k":0.503,"w":246.1},{"b":"b39","k":0.455,"w":246.4},{"b":"b39","k":0.41,"w":246.7},{"b":"b39","k":0.356,"w":246.8},{"b":"b39","k":0.305,"w":246.8},{"b":"b39","k":0.238,"w":246.7},{"b":"b39","k":0.165,"w":246.4},{"b":"b39","k":0.093,"w":246.1},{"b":"b39","k":0,"w":246.0}
]
},
"vconcat": [
{
"width": 1696, "height": 654,
"layer": [
{"data": {"name": "spectra"}, "mark": {"type": "line", "strokeWidth": 1.8, "interpolate": "monotone"},
 "encoding": {
  "x": {"field": "w", "type": "quantitative", "scale": {"domain": [0, 300], "nice": false, "zero": false}, "axis": null},
  "y": {"field": "v", "type": "quantitative", "scale": {"domain": [0, 654], "nice": false, "zero": false}, "axis": null},
  "color": {"field": "s", "type": "nominal", "scale": {"domain": ["TOSCA", "BZ", "Γ"], "range": ["#2b2b2b", "#3c3cf2", "#a03232"]}, "legend": null}
 }},
{"data": {"name": "labels"}, "transform": [{"filter": "datum.t != 'Γ'"}],
 "mark": {"type": "text", "font": "Lato", "fontWeight": "bold", "fontStyle": "italic", "fontSize": 40, "align": "left", "baseline": "middle", "color": "#000000"},
 "encoding": {"x": {"field": "w", "type": "quantitative"}, "y": {"field": "v", "type": "quantitative"}, "text": {"field": "t"}}},
{"data": {"name": "labels"}, "transform": [{"filter": "datum.t == 'Γ'"}],
 "mark": {"type": "text", "font": "Liberation Serif", "fontSize": 50, "align": "left", "baseline": "middle", "color": "#000000"},
 "encoding": {"x": {"field": "w", "type": "quantitative"}, "y": {"field": "v", "type": "quantitative"}, "text": {"field": "t"}}}
]
},
{
"width": 1696, "height": 578,
"view": {"stroke": "#a6a6a6", "strokeWidth": 2},
"layer": [
{"data": {"name": "grid"}, "transform": [{"filter": {"field": "pt", "oneOf": ["U", "X"]}}],
 "mark": {"type": "rule", "color": "#a8a8a8", "strokeDash": [10, 5], "strokeWidth": 2},
 "encoding": {"y": {"field": "k", "type": "quantitative"}}},
{"data": {"name": "grid"}, "transform": [{"filter": {"field": "pt", "oneOf": ["S", "T"]}}],
 "mark": {"type": "rule", "color": "#6e6e6e", "strokeDash": [10, 5], "strokeWidth": 2},
 "encoding": {"y": {"field": "k", "type": "quantitative"}}},
{"data": {"name": "grid"}, "transform": [{"filter": {"field": "pt", "oneOf": ["Y"]}}],
 "mark": {"type": "rule", "color": "#efefef", "strokeDash": [10, 5], "strokeWidth": 2},
 "encoding": {"y": {"field": "k", "type": "quantitative"}}},
{"data": {"name": "disp"}, "mark": {"type": "line", "strokeWidth": 1.8, "interpolate": "catmull-rom"},
 "encoding": {
  "x": {"field": "w", "type": "quantitative", "scale": {"domain": [0, 300], "nice": false, "zero": false},
   "axis": {"values": [0, 50, 100, 150, 200, 250, 300], "labelExpr": "datum.value == 100 || datum.value == 200 || datum.value == 300 ? datum.label : ''",
    "grid": false, "domainColor": "#000000", "domainWidth": 4, "tickColor": "#000000", "tickWidth": 2, "tickSize": 7,
    "labelFont": "Liberation Sans Narrow, DejaVu Sans Condensed, sans-serif", "labelFontSize": 48, "labelColor": "#000000", "labelPadding": 13,
    "labelFlush": false, "labelOverlap": false,
    "title": "Wavenumber / cm⁻¹", "titleFont": "Liberation Sans Narrow, DejaVu Sans Condensed, sans-serif", "titleFontSize": 47, "titleFontWeight": "normal", "titleColor": "#000000", "titlePadding": 32}},
  "y": {"field": "k", "type": "quantitative", "scale": {"domain": [0, 1], "nice": false, "zero": false},
   "axis": {"values": [0, 0.111, 0.305, 0.409, 0.503, 0.707, 0.801, 1],
    "labelExpr": "datum.value == 1 ? 'R' : datum.value == 0.801 ? 'U' : datum.value == 0.707 ? 'X' : datum.value == 0.503 ? 'S' : datum.value == 0.409 ? 'Y' : datum.value == 0.305 ? 'T' : datum.value == 0.111 ? 'Z' : 'Γ'",
    "grid": false, "domain": false, "tickSize": 6, "tickWidth": 2, "tickColor": "#555555",
    "tickOpacity": {"condition": {"test": "datum.value == 1 || datum.value == 0 || datum.value == 0.111", "value": 0}, "value": 1},
    "labelFont": {"condition": {"test": "datum.value == 0", "value": "Liberation Serif"}, "value": "Liberation Sans Narrow, DejaVu Sans Condensed, sans-serif"},
    "labelFontSize": {"condition": {"test": "datum.value == 0", "value": 42}, "value": 36},
    "labelPadding": 27, "labelColor": "#000000", "labelOverlap": false, "labelFlush": false, "labelBaseline": "middle", "title": null}},
  "color": {"field": "b", "type": "nominal", "legend": null, "scale": {
   "domain": ["b01","b02","b03","b04","b05","b06","b07","b08","b09","b10","b11","b12","b13","b14","b15","b16","b17","b18","b19","b20","b21","b22","b23","b24","b25","b26","b27","b28","b29","b30","b31","b32","b33","b34","b35","b36","b37","b38","b39"],
   "range": ["#ff2020","#ff4040","#0000ff","#6a6aff","#00c000","#70ee70","#800080","#f2f200","#f2f200","#ff00ff","#ff00ff","#00f0f0","#00f0f0","#008000","#3a9a3a","#ff8000","#ff9a40","#000080","#00e000","#40f040","#ff2020","#ff6060","#0000ff","#00e000","#ff1493","#ff1493","#f2f200","#1a8a1a","#00f0f0","#00f0f0","#ff8000","#ff9a40","#800000","#a04040","#000080","#00e000","#ff8000","#ff2020","#0000ff"]}},
  "order": {"field": "k", "type": "quantitative"}
 }}
]
}
]
}
